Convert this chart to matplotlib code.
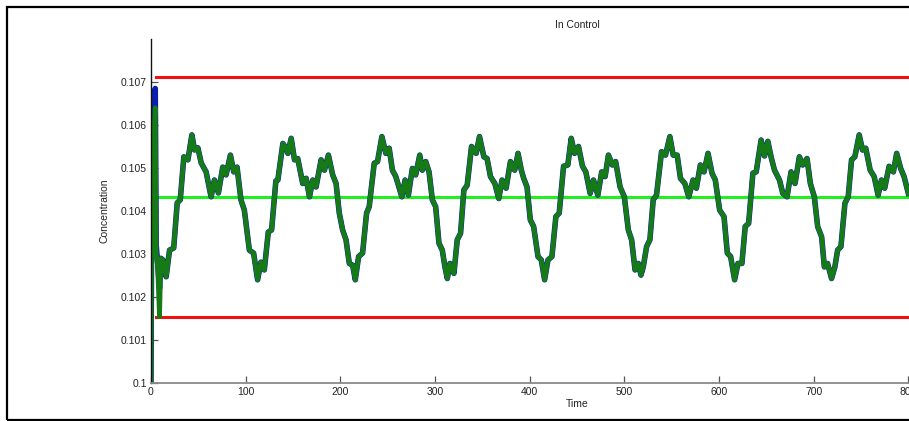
import matplotlib
matplotlib.use('Agg')
import matplotlib.pyplot as plt
from matplotlib.patches import Rectangle

plt.rcParams['font.family'] = ['Liberation Sans', 'DejaVu Sans']

# control limits
ucl = 0.107123
lcl = 0.101542
center = 0.104333
limit_start = 5

# green series
time = [0, 1, 2, 3, 4.5, 5.5, 7, 9, 10.5, 12.6, 16, 19.6, 24, 27.7, 30.9, 34.7, 39, 43.2, 46, 49.5,
        53, 58.2, 63.5, 67, 71.2, 75.8, 79.3, 83.9, 87.4, 90.9, 95, 98.6, 103.9, 108.4, 112.6,
        116.1, 119.7, 123.9, 127.4, 131.9, 134, 139.3, 142.8, 144.6, 148.1, 151.6, 155, 160.3,
        163.9, 167.4, 170.9, 174.4, 179.7, 183.2, 187.4, 191.9, 195.5, 198.9, 202.4, 206, 209.5,
        213, 215.8, 219.3, 223.5, 227.7, 230.5, 235.8, 239.3, 243.9, 248.1, 251.6, 255, 258.6,
        265, 268.4, 271.9, 276.1, 279.6, 283.9, 286.6, 290.2, 293.7, 297.2, 300.7, 304.2, 307.7,
        310.5, 313, 315.8, 320, 323.5, 327, 330.5, 334, 338.6, 343.5, 347, 351.6, 355, 358.6,
        363.2, 367.4, 370.8, 375.1, 379.7, 384.2, 387.7, 391.2, 393.7, 397.2, 400.7, 404.2,
        408.8, 412.3, 415.8, 419.3, 423.5, 427.7, 431.2, 435.8, 440.3, 443.9, 447.4, 451.6,
        455.8, 459.3, 463.9, 467.4, 472, 476.1, 479.7, 483.2, 487.4, 490.8, 495.5, 500, 504.2,
        507.7, 511.3, 514.7, 517.6, 520, 523.5, 527, 530.5, 534, 539.3, 543.5, 548.1, 551.6,
        555.8, 559.3, 563.9, 568.1, 572.6, 576.1, 580.3, 584.2, 588.4, 592.6, 596.1, 600.7,
        605.3, 608.8, 612.3, 616.5, 620, 624.2, 627.7, 631.3, 635.8, 639.3, 644.5, 648.1,
        651.6, 655, 658.6, 663.9, 667.4, 671.9, 676.1, 680.3, 684.9, 688.4, 693, 696.5, 700.7,
        704.2, 708.4, 711.3, 714.7, 718.9, 722.4, 725.3, 728.8, 733, 736.5, 740, 743.5, 748.1,
        751.6, 755, 759.7, 763.9, 768.1, 771.6, 775, 779.7, 784.2, 787.7, 791.9, 795.5, 800]
conc = [0.1, 0.1057, 0.1030, 0.1058, 0.1064, 0.1030, 0.1027, 0.10154, 0.1029, 0.10286, 0.10247,
        0.10309, 0.10314, 0.10419, 0.10426, 0.10526, 0.10519, 0.10577, 0.10542, 0.10547,
        0.10512, 0.10491, 0.10433, 0.10472, 0.10442, 0.10502, 0.10484, 0.10530, 0.10491,
        0.10502, 0.10426, 0.10402, 0.10309, 0.10302, 0.10240, 0.10281, 0.10263, 0.10351,
        0.10356, 0.10470, 0.10472, 0.10557, 0.10546, 0.10534, 0.10569, 0.10519, 0.10522,
        0.10464, 0.10476, 0.10433, 0.10472, 0.10456, 0.10519, 0.10495, 0.10530, 0.10484,
        0.10464, 0.10395, 0.10356, 0.10333, 0.10278, 0.10274, 0.10240, 0.10294, 0.10302,
        0.10395, 0.10410, 0.10511, 0.10515, 0.10573, 0.10534, 0.10546, 0.10495, 0.10480,
        0.10433, 0.10472, 0.10437, 0.10499, 0.10484, 0.10530, 0.10495, 0.10515, 0.10491,
        0.10426, 0.10410, 0.10325, 0.10309, 0.10270, 0.10243, 0.10278, 0.10255, 0.10333,
        0.10348, 0.10449, 0.10460, 0.10550, 0.10534, 0.10573, 0.10526, 0.10522, 0.10480,
        0.10464, 0.10429, 0.10472, 0.10453, 0.10515, 0.10495, 0.10534, 0.10495, 0.10476,
        0.10456, 0.10379, 0.10364, 0.10294, 0.10286, 0.10240, 0.10286, 0.10294, 0.10387,
        0.10395, 0.10504, 0.10507, 0.10569, 0.10534, 0.10550, 0.10504, 0.10491, 0.10441,
        0.10472, 0.10437, 0.10491, 0.10480, 0.10530, 0.10507, 0.10515, 0.10456, 0.10433,
        0.10356, 0.10333, 0.10263, 0.10278, 0.10251, 0.10270, 0.10317, 0.10333, 0.10426,
        0.10437, 0.10538, 0.10530, 0.10573, 0.10530, 0.10530, 0.10476, 0.10464, 0.10433,
        0.10472, 0.10453, 0.10507, 0.10491, 0.10534, 0.10488, 0.10472, 0.10402, 0.10387,
        0.10302, 0.10294, 0.10240, 0.10278, 0.10278, 0.10364, 0.10371, 0.10488, 0.10491,
        0.10565, 0.10528, 0.10562, 0.10526, 0.10495, 0.10472, 0.10441, 0.10433, 0.10491,
        0.10464, 0.10526, 0.10507, 0.10522, 0.10464, 0.10433, 0.10364, 0.10340, 0.10270,
        0.10278, 0.10243, 0.10270, 0.10309, 0.10317, 0.10418, 0.10433, 0.10519, 0.10526,
        0.10577, 0.10542, 0.10546, 0.10495, 0.10480, 0.10437, 0.10472, 0.10453, 0.10504,
        0.10491, 0.10534, 0.10499, 0.10480, 0.10441]

# blue series differs from green only in the opening spike
blue_head = [0.1, 0.1058, 0.1032, 0.1063, 0.10685, 0.1032, 0.1028, 0.1022]
blue_conc = blue_head + conc[len(blue_head):]

fig = plt.figure(figsize=(9.09, 4.21), dpi=100)
fig.patches.append(Rectangle((7/909, 1/421), 1.2, 413/421, transform=fig.transFigure,
                             fill=False, edgecolor='black', linewidth=1.6, clip_on=False))
ax = fig.add_axes([151/909, 38/421, 852/909, 344/421])

ax.plot([limit_start, 900], [ucl, ucl], color='#ee1111', linewidth=2.2)
ax.plot([limit_start, 900], [lcl, lcl], color='#ee1111', linewidth=2.2)
ax.plot([limit_start, 900], [center, center], color='#22ee22', linewidth=2.2)
ax.plot(time, blue_conc, color='#0a1fb0', linewidth=4.0)
ax.plot(time, conc, color='#167a16', linewidth=3.4)

ax.set_xlim(0, 900)
ax.set_ylim(0.1, 0.108)
ax.set_xticks(range(0, 901, 100))
yt = [0.1, 0.101, 0.102, 0.103, 0.104, 0.105, 0.106, 0.107]
ax.set_yticks(yt)
ax.set_yticklabels(['0.1', '0.101', '0.102', '0.103', '0.104', '0.105', '0.106', '0.107'])

for s in ['top', 'right']:
    ax.spines[s].set_visible(False)
ax.spines['bottom'].set_color('#8a8a8a')
ax.spines['bottom'].set_linewidth(1.3)
ax.spines['left'].set_color('#111111')
ax.spines['left'].set_linewidth(1.0)
ax.tick_params(axis='both', direction='in', length=5, width=0.9, color='#555555',
               labelsize=7.5, labelcolor='#222222', pad=3)

ax.set_title('In Control', fontsize=7.5, color='#222222', pad=8)
ax.set_xlabel('Time', fontsize=7.5, color='#222222', labelpad=1)
ax.set_ylabel('Concentration', fontsize=7.5, color='#222222', labelpad=8)

fig.savefig('out.png', dpi=100)
